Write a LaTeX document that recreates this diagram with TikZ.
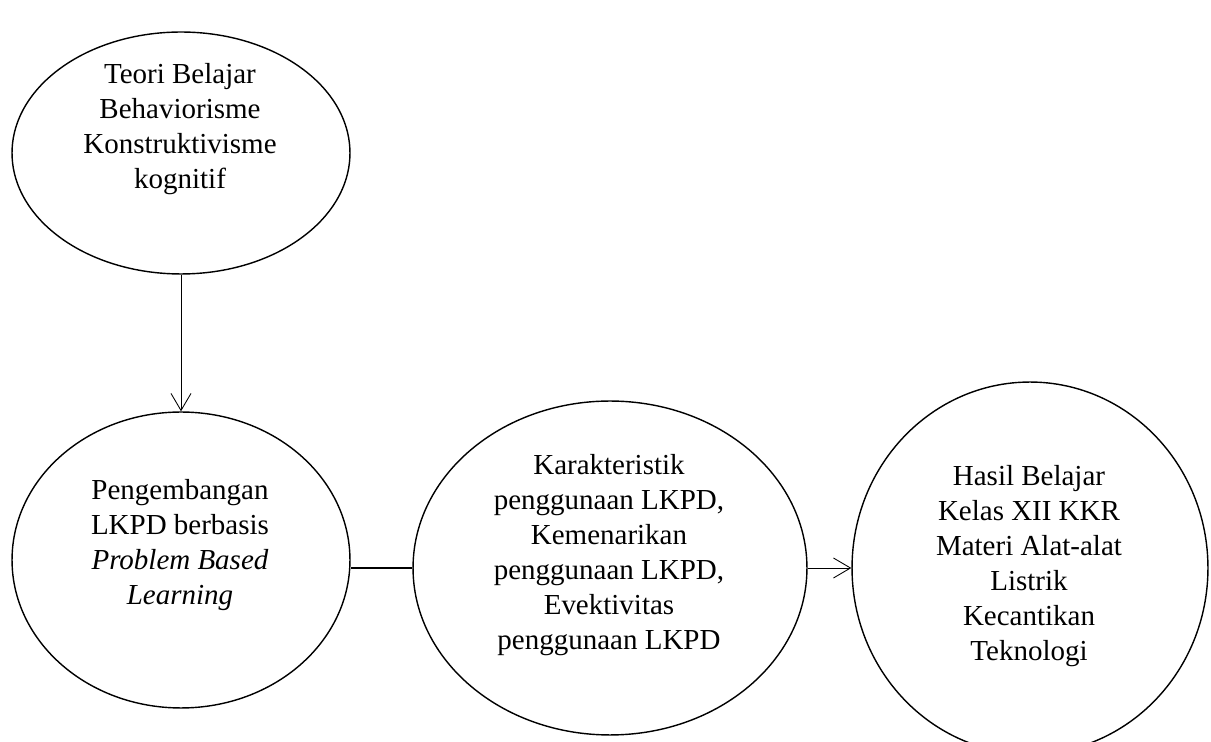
\documentclass[tikz,border=0pt]{standalone}
\usepackage{fontspec}
\setmainfont{Liberation Serif}
\usetikzlibrary{arrows.meta,shapes.geometric}

\tikzset{
  bubble/.style={draw, ellipse, line width=0.8pt, inner sep=0pt},
  bubbletext/.style={align=center, font=\fontsize{16.5}{20}\selectfont},
  link/.style={-{Straight Barb[length=0.34cm,width=0.4cm]}, line width=0.5pt},
}

\begin{document}
\begin{tikzpicture}[x=0.02cm, y=-0.02cm]
  \useasboundingbox (0,0) rectangle (1211,742);

  % Ellipses
  \node[bubble, minimum width=6.76cm, minimum height=4.84cm] (teori) at (181,153) {};
  \node[bubble, minimum width=6.76cm, minimum height=5.92cm] (lkpd) at (181,560) {};
  \node[bubble, minimum width=7.88cm, minimum height=6.68cm] (karakter) at (610,568) {};
  \node[bubble, minimum width=7.12cm, minimum height=7.44cm] (hasil) at (1030,568) {};

  % Texts
  \node[bubbletext] (teoriTxt) at (180,129) {Teori Belajar\\Behaviorisme\\Konstruktivisme\\kognitif};
  \node[bubbletext] (lkpdTxt) at (180,545) {Pengembangan\\LKPD berbasis\\\textit{Problem Based}\\\textit{Learning}};
  \node[bubbletext] (karakterTxt) at (609,555) {Karakteristik\\penggunaan LKPD,\\Kemenarikan\\penggunaan LKPD,\\Evektivitas\\penggunaan LKPD};
  \node[bubbletext] (hasilTxt) at (1029,566) {Hasil Belajar\\Kelas XII KKR\\Materi Alat-alat\\Listrik\\Kecantikan\\Teknologi};

  % Connectors
  \draw[link] (teori) -- (lkpd);
  \draw[line width=1pt] (lkpd.east |- karakter.west) -- (karakter.west);
  \draw[link] (karakter) -- (hasil);
\end{tikzpicture}
\end{document}
